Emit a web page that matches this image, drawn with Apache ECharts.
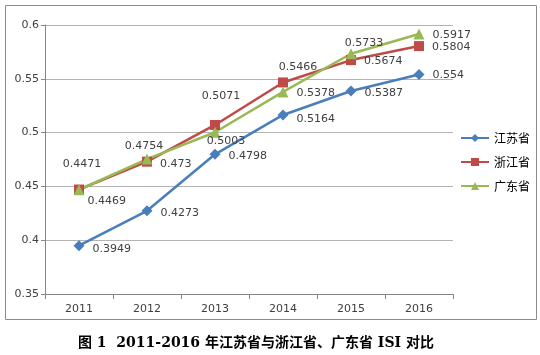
<!DOCTYPE html>
<html>
<head>
<meta charset="utf-8">
<script src="https://cdn.jsdelivr.net/npm/echarts@6/dist/echarts.min.js"></script>
<style>
  html, body { margin: 0; padding: 0; background: #fff; }
  #main { width: 540px; height: 355px; }
</style>
</head>
<body>
<div id="main"></div>
<script>
var years = ['2011', '2012', '2013', '2014', '2015', '2016'];
var jiangsu = [0.3949, 0.4273, 0.4798, 0.5164, 0.5387, 0.554];
var zhejiang = [0.4471, 0.473, 0.5071, 0.5466, 0.5674, 0.5804];
var guangdong = [0.4469, 0.4754, 0.5003, 0.5378, 0.5733, 0.5917];

// label placement per point (excel labels were moved by hand)
var jiangsuPos = ['right', 'right', 'right', 'right', 'right', 'right'];
var zhejiangPos = ['top', 'right', 'top', 'top', 'right', 'right'];
var guangdongPos = ['right', 'top', 'bottom', 'right', 'top', 'right'];

var labelStyle = { color: '#404040', fontSize: 11, fontFamily: 'DejaVu Sans' };

function buildData(vals, pos, offs) {
    var list = [];
    for (var i = 0; i < vals.length; i++) {
        list.push({
            value: vals[i],
            label: { position: pos[i], offset: offs[i] }
        });
    }
    return list;
}

var myChart = echarts.init(document.getElementById('main'));
var option = {
    animation: false,
    graphic: [{
        type: 'rect',
        shape: { x: 5.5, y: 5.5, width: 531, height: 314 },
        style: { fill: 'none', stroke: '#8c8c8c', lineWidth: 1 }
    }, {
        type: 'text',
        left: 78,
        top: 336,
        style: {
            text: '图 1  2011-2016 年江苏省与浙江省、广东省 ISI 对比',
            font: 'bold 14px "DejaVu Serif", "Noto Sans CJK SC"',
            fill: '#000'
        }
    }],
    grid: { left: 45, right: 87, top: 25, bottom: 61 },
    legend: {
        orient: 'vertical',
        left: 455,
        top: 127,
        itemGap: 12,
        itemWidth: 28,
        itemHeight: 10,
        textStyle: { fontSize: 12, color: '#000', fontFamily: 'Noto Sans CJK SC' },
        data: ['江苏省', '浙江省', '广东省']
    },
    xAxis: {
        type: 'category',
        data: years,
        boundaryGap: true,
        axisLine: { lineStyle: { color: '#868686' } },
        axisTick: { show: true, lineStyle: { color: '#868686' } },
        axisLabel: { color: '#404040', fontSize: 11, margin: 10, fontFamily: 'DejaVu Sans' }
    },
    yAxis: {
        type: 'value',
        min: 0.35,
        max: 0.6,
        interval: 0.05,
        axisLine: { show: true, lineStyle: { color: '#868686' } },
        axisTick: { show: true, length: 4, lineStyle: { color: '#868686' } },
        axisLabel: { color: '#404040', fontSize: 11, margin: 6, fontFamily: 'DejaVu Sans',
            formatter: function (v) { return String(+v.toFixed(2)); } },
        splitLine: { lineStyle: { color: '#b3b3b3' } }
    },
    series: [{
        name: '江苏省',
        type: 'line',
        symbol: 'diamond',
        symbolSize: 11,
        itemStyle: { color: '#4a7ebb' },
        lineStyle: { width: 2.5 },
        label: Object.assign({ show: true, distance: 8 }, labelStyle),
        data: buildData(jiangsu, jiangsuPos, [[0, 3], [0, 2], [0, 2], [0, 4], [0, 2], [0, 1]])
    }, {
        name: '浙江省',
        type: 'line',
        symbol: 'rect',
        symbolSize: 10,
        itemStyle: { color: '#be4b48' },
        lineStyle: { width: 2.5 },
        label: Object.assign({ show: true, distance: 8 }, labelStyle),
        data: buildData(zhejiang, zhejiangPos, [[3, -7], [0, 2], [6, -10], [15, 3], [0, 1], [0, 1]])
    }, {
        name: '广东省',
        type: 'line',
        symbol: 'triangle',
        symbolSize: 11,
        itemStyle: { color: '#98b954' },
        lineStyle: { width: 2.5 },
        label: Object.assign({ show: true, distance: 8 }, labelStyle),
        data: buildData(guangdong, guangdongPos, [[-5, 11], [-3, 6], [11, -10], [0, 1], [13, 8], [0, 1]])
    }]
};
myChart.setOption(option);
</script>
</body>
</html>
